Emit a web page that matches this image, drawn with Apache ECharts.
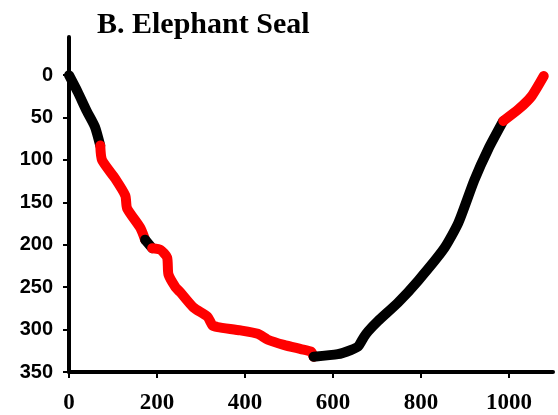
<!DOCTYPE html>
<html>
<head>
<meta charset="utf-8">
<script src="https://cdn.jsdelivr.net/npm/echarts@6/dist/echarts.min.js"></script>
<style>
  html, body { margin: 0; padding: 0; background: #fff; }
  #chart { width: 558px; height: 415px; }
</style>
</head>
<body>
<div id="chart"></div>
<script>
// dive profile: time (s) vs depth (m)
const timeSec = [0, 20, 41, 59, 71, 75, 105, 128, 132, 162, 173, 189, 208, 223, 226, 242, 253, 283, 315, 326,
  338, 390, 429, 452, 488, 527, 550, 556, 611, 641, 657, 670, 680, 702, 748, 794, 853, 885, 921, 953,
  987, 1022, 1051, 1079];
const depthM = [0, 20, 43, 61, 83, 100, 122, 142, 157, 180, 194, 204, 206, 215, 235, 250, 256, 274, 285, 295,
  297, 301, 305, 312, 318, 323, 326, 332, 329, 324, 320, 309, 302, 290, 268, 242, 204, 174, 124, 87,
  54, 40, 25, 1];
// phases of the dive (index ranges into the arrays above)
const phaseStart = [0, 4, 10, 11, 27, 40];
const phaseEnd = [4, 10, 11, 27, 40, 43];
const phaseColor = ['#000000', '#ff0000', '#000000', '#ff0000', '#000000', '#ff0000'];

const xTicks = [0, 200, 400, 600, 800, 1000];
const yTicks = [0, 50, 100, 150, 200, 250, 300, 350];

const chart = echarts.init(document.getElementById('chart'));

const series = phaseStart.map((s, i) => {
  const pts = [];
  for (let k = s; k <= phaseEnd[i]; k++) pts.push([timeSec[k], depthM[k]]);
  return {
    type: 'line',
    data: pts,
    showSymbol: false,
    smooth: 0.2,
    clip: false,
    z: 3 + i,
    lineStyle: { color: phaseColor[i], width: 10, cap: 'round', join: 'round' }
  };
});

chart.setOption({
  animation: false,
  backgroundColor: '#fff',
  title: {
    text: 'B. Elephant Seal',
    left: 92,
    top: 5,
    textStyle: { fontFamily: 'Liberation Serif', fontWeight: 'bold', fontSize: 30, color: '#000' }
  },
  grid: { left: 69, right: 5, top: 37, bottom: 39 },
  xAxis: {
    type: 'value',
    min: 0,
    max: 1100,
    splitLine: { show: false },
    axisLine: { onZero: false, lineStyle: { color: '#000', width: 4 } },
    axisTick: { customValues: xTicks, length: 6, lineStyle: { color: '#000', width: 2 } },
    axisLabel: {
      customValues: xTicks,
      formatter: v => String(v),
      margin: 20,
      color: '#000',
      fontFamily: 'Liberation Serif',
      fontWeight: 'bold',
      fontSize: 23
    }
  },
  yAxis: {
    type: 'value',
    inverse: true,
    min: -45,
    max: 350,
    splitLine: { show: false },
    axisLine: { onZero: false, lineStyle: { color: '#000', width: 4 } },
    axisTick: { customValues: yTicks, length: 6, lineStyle: { color: '#000', width: 2 } },
    axisLabel: {
      customValues: yTicks,
      margin: 16,
      color: '#000',
      fontFamily: 'Liberation Sans',
      fontWeight: 'bold',
      fontSize: 20
    }
  },
  series: series
});
</script>
</body>
</html>
